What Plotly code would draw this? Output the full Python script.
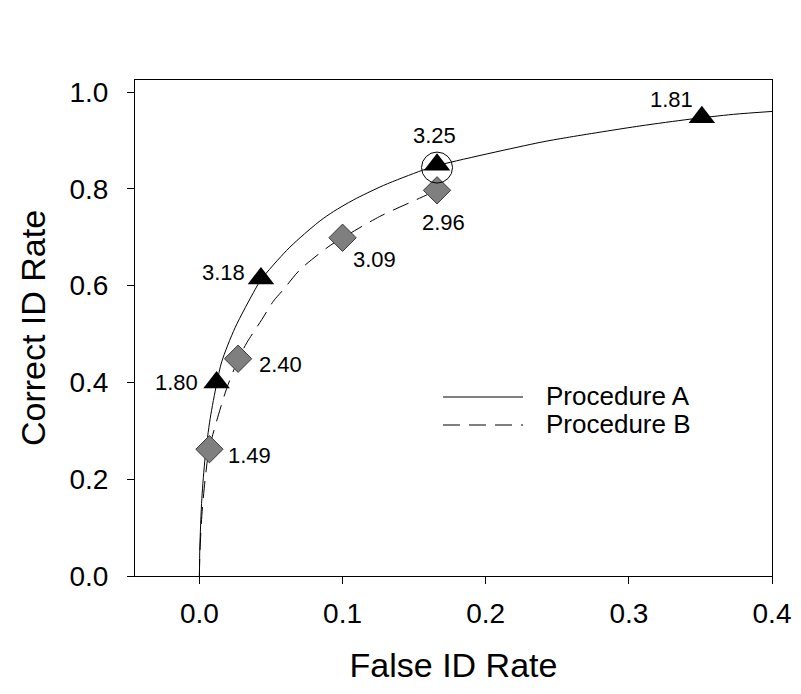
import plotly.graph_objects as go

# ---- data ----
# Procedure A observed points (triangles)
a_false = [0.012, 0.043, 0.166, 0.351]
a_correct = [0.400, 0.615, 0.850, 0.948]
a_labels = ["1.80", "3.18", "3.25", "1.81"]

# Procedure B observed points (diamonds)
b_false = [0.007, 0.027, 0.100, 0.166]
b_correct = [0.262, 0.449, 0.699, 0.797]
b_labels = ["1.49", "2.40", "3.09", "2.96"]

# Fitted ROC curve for Procedure A (solid)
a_curve_x = [0.0, 0.0003, 0.0017, 0.004, 0.0075, 0.0121, 0.0156, 0.0249, 0.0389,
             0.0429, 0.061, 0.0703, 0.0843, 0.0936, 0.1075, 0.1285, 0.1553, 0.1658,
             0.2379, 0.2566, 0.3077, 0.3427, 0.373, 0.4]
a_curve_y = [0.0, 0.06, 0.16, 0.245, 0.325, 0.398, 0.443, 0.513, 0.592,
             0.612, 0.673, 0.699, 0.734, 0.753, 0.777, 0.807, 0.838, 0.848,
             0.896, 0.906, 0.930, 0.944, 0.954, 0.960]

# Fitted ROC curve for Procedure B (dashed)
b_curve_x = [0.0, 0.0003, 0.0017, 0.004, 0.0068, 0.0133, 0.0191, 0.0272, 0.0331,
             0.0436, 0.0517, 0.0587, 0.0703, 0.0913, 0.1001, 0.126, 0.1518, 0.168]
b_curve_y = [0.0, 0.045, 0.125, 0.200, 0.262, 0.333, 0.388, 0.448, 0.482,
             0.530, 0.568, 0.592, 0.633, 0.683, 0.699, 0.743, 0.778, 0.800]

# highlighted point (circled) : index in Procedure A
circled_index = 2

x_ticks = [0.0, 0.1, 0.2, 0.3, 0.4]
y_ticks = [0.0, 0.2, 0.4, 0.6, 0.8, 1.0]

FONT = "Liberation Sans, Arial, sans-serif"

# page offset of the plot div (browser default body margin)
OFF = 8
# target plot area in screenshot pixels
PL, PR, PT, PB = 135, 772, 80, 576
W, H = 801, 694

fig = go.Figure()

fig.add_trace(go.Scatter(x=a_curve_x, y=a_curve_y, mode="lines",
                         line=dict(color="black", width=1, shape="spline", smoothing=0.8),
                         name="Procedure A", showlegend=False, hoverinfo="skip"))
fig.add_trace(go.Scatter(x=b_curve_x, y=b_curve_y, mode="lines",
                         line=dict(color="black", width=1, dash="17px,9px", shape="spline", smoothing=0.8),
                         name="Procedure B", showlegend=False, hoverinfo="skip"))

fig.add_trace(go.Scatter(x=b_false, y=b_correct, mode="markers",
                         marker=dict(symbol="diamond", size=21, color="#7f7f7f",
                                     line=dict(color="#3a3a3a", width=1)),
                         showlegend=False))
fig.add_trace(go.Scatter(x=a_false, y=a_correct, mode="markers",
                         marker=dict(symbol="triangle-up", size=23, color="black",
                                     line=dict(color="black", width=0)),
                         showlegend=False))
fig.add_trace(go.Scatter(x=[a_false[circled_index]], y=[a_correct[circled_index] - 0.006],
                         mode="markers",
                         marker=dict(symbol="circle-open", size=31, color="black",
                                     line=dict(color="black", width=1)),
                         showlegend=False))

# label offsets (pixels) relative to each marker
a_offsets = [(-40, 0), (-37, 6), (-3, 29), (-30, 18)]
b_offsets = [(40, -6), (42, -6), (32, -22), (6, -32)]

ann = []
for x, y, t, (dx, dy) in zip(a_false, a_correct, a_labels, a_offsets):
    ann.append(dict(x=x, y=y, xref="x", yref="y", text=t, showarrow=False,
                    xshift=dx, yshift=dy, font=dict(family=FONT, size=22, color="black")))
for x, y, t, (dx, dy) in zip(b_false, b_correct, b_labels, b_offsets):
    ann.append(dict(x=x, y=y, xref="x", yref="y", text=t, showarrow=False,
                    xshift=dx, yshift=dy, font=dict(family=FONT, size=22, color="black")))

# manual legend (pixel positions in screenshot -> paper coords)
PW = float(PR - PL)
PH = float(PB - PT)
def px_to_paper_x(px):
    return (px - PL) / PW
def px_to_paper_y(py):
    return (PB - py) / PH

shapes = [
    dict(type="line", xref="paper", yref="paper",
         x0=px_to_paper_x(443), x1=px_to_paper_x(523),
         y0=px_to_paper_y(397), y1=px_to_paper_y(397),
         line=dict(color="black", width=1)),
    dict(type="line", xref="paper", yref="paper",
         x0=px_to_paper_x(443), x1=px_to_paper_x(523),
         y0=px_to_paper_y(425), y1=px_to_paper_y(425),
         line=dict(color="black", width=1, dash="17px,9px")),
]
ann.append(dict(x=px_to_paper_x(544), y=px_to_paper_y(396), xref="paper", yref="paper",
                text="Procedure A", showarrow=False, xanchor="left", yanchor="middle",
                font=dict(family=FONT, size=26, color="black")))
ann.append(dict(x=px_to_paper_x(544), y=px_to_paper_y(424), xref="paper", yref="paper",
                text="Procedure B", showarrow=False, xanchor="left", yanchor="middle",
                font=dict(family=FONT, size=26, color="black")))

fig.update_layout(
    width=W, height=H,
    margin=dict(l=PL - OFF, r=W + OFF - PR, t=PT - OFF, b=H + OFF - PB),
    paper_bgcolor="white", plot_bgcolor="white",
    font=dict(family=FONT, color="black"),
    annotations=ann, shapes=shapes,
    showlegend=False,
)
fig.update_xaxes(range=[-0.045, 0.4], tickvals=x_ticks, tickformat=".1f",
                 ticks="outside", ticklen=7, tickwidth=1, tickcolor="black",
                 showline=True, linecolor="black", linewidth=1, mirror=True,
                 showgrid=False, zeroline=False,
                 tickfont=dict(family=FONT, size=28), ticklabelstandoff=5,
                 title=dict(text="False ID Rate", font=dict(family=FONT, size=34), standoff=25))
fig.update_yaxes(range=[0, 1.025], tickvals=y_ticks, tickformat=".1f",
                 ticks="outside", ticklen=7, tickwidth=1, tickcolor="black",
                 showline=True, linecolor="black", linewidth=1, mirror=True,
                 showgrid=False, zeroline=False,
                 tickfont=dict(family=FONT, size=28), ticklabelstandoff=13,
                 title=dict(text="Correct ID Rate", font=dict(family=FONT, size=34), standoff=13))

fig.write_html("out.html")
